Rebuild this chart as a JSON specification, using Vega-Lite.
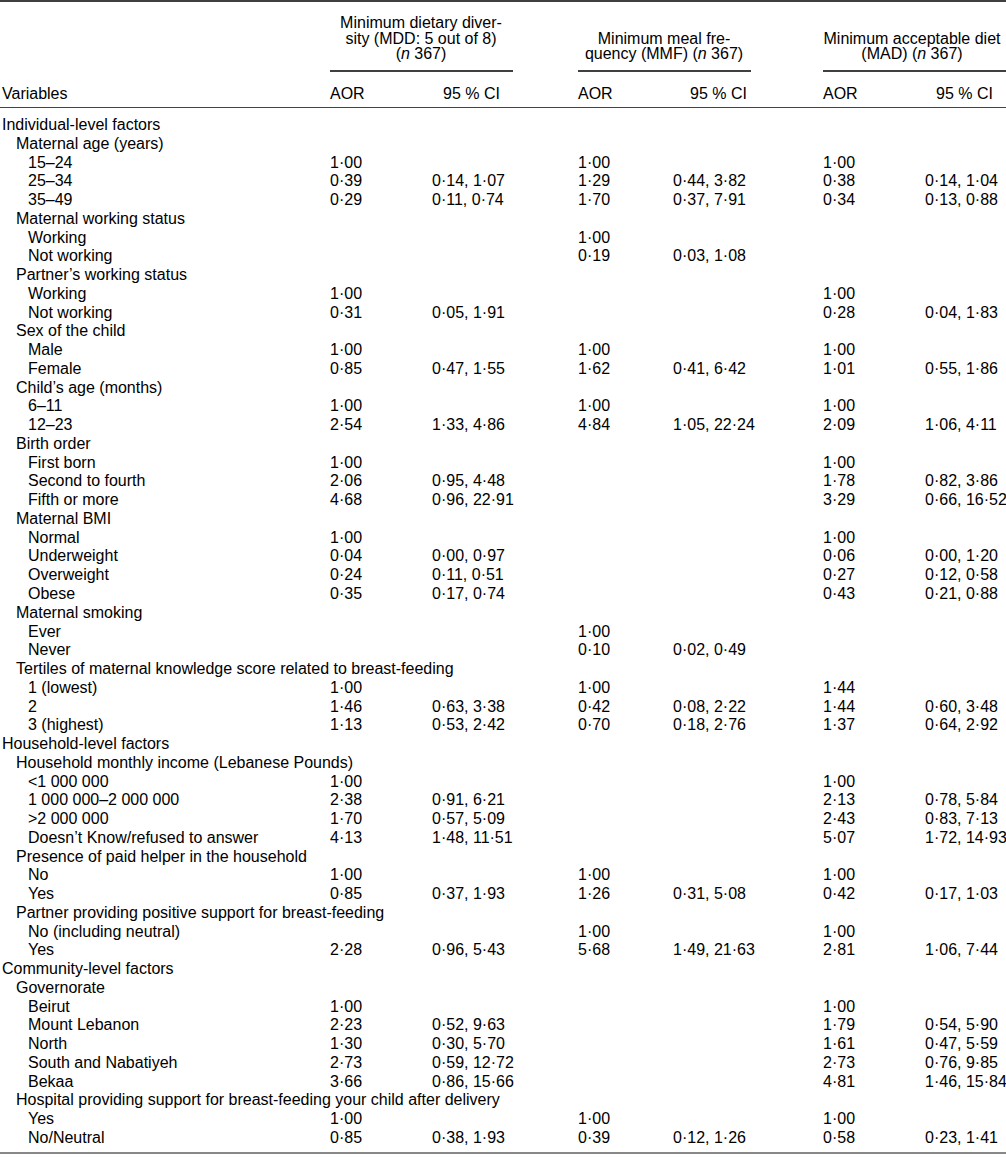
{
  "$schema": "https://vega.github.io/schema/vega-lite/v6.json",
  "width": 1006,
  "height": 1159,
  "padding": 0,
  "autosize": {"type": "none"},
  "background": "white",
  "config": {
    "view": {"stroke": null},
    "text": {"font": "Liberation Sans", "fontSize": 16, "color": "#000000", "baseline": "middle"}
  },
  "datasets": {
    "table": [
      {"r": 1, "c": 0, "label": "Individual-level factors"},
      {"r": 2, "c": 1, "label": "Maternal age (years)"},
      {"r": 3, "c": 2, "label": "15–24", "a1": "1·00", "a2": "1·00", "a3": "1·00"},
      {"r": 4, "c": 2, "label": "25–34", "a1": "0·39", "c1": "0·14, 1·07", "a2": "1·29", "c2": "0·44, 3·82", "a3": "0·38", "c3": "0·14, 1·04"},
      {"r": 5, "c": 2, "label": "35–49", "a1": "0·29", "c1": "0·11, 0·74", "a2": "1·70", "c2": "0·37, 7·91", "a3": "0·34", "c3": "0·13, 0·88"},
      {"r": 6, "c": 1, "label": "Maternal working status"},
      {"r": 7, "c": 2, "label": "Working", "a2": "1·00"},
      {"r": 8, "c": 2, "label": "Not working", "a2": "0·19", "c2": "0·03, 1·08"},
      {"r": 9, "c": 1, "label": "Partner’s working status"},
      {"r": 10, "c": 2, "label": "Working", "a1": "1·00", "a3": "1·00"},
      {"r": 11, "c": 2, "label": "Not working", "a1": "0·31", "c1": "0·05, 1·91", "a3": "0·28", "c3": "0·04, 1·83"},
      {"r": 12, "c": 1, "label": "Sex of the child"},
      {"r": 13, "c": 2, "label": "Male", "a1": "1·00", "a2": "1·00", "a3": "1·00"},
      {"r": 14, "c": 2, "label": "Female", "a1": "0·85", "c1": "0·47, 1·55", "a2": "1·62", "c2": "0·41, 6·42", "a3": "1·01", "c3": "0·55, 1·86"},
      {"r": 15, "c": 1, "label": "Child’s age (months)"},
      {"r": 16, "c": 2, "label": "6–11", "a1": "1·00", "a2": "1·00", "a3": "1·00"},
      {"r": 17, "c": 2, "label": "12–23", "a1": "2·54", "c1": "1·33, 4·86", "a2": "4·84", "c2": "1·05, 22·24", "a3": "2·09", "c3": "1·06, 4·11"},
      {"r": 18, "c": 1, "label": "Birth order"},
      {"r": 19, "c": 2, "label": "First born", "a1": "1·00", "a3": "1·00"},
      {"r": 20, "c": 2, "label": "Second to fourth", "a1": "2·06", "c1": "0·95, 4·48", "a3": "1·78", "c3": "0·82, 3·86"},
      {"r": 21, "c": 2, "label": "Fifth or more", "a1": "4·68", "c1": "0·96, 22·91", "a3": "3·29", "c3": "0·66, 16·52"},
      {"r": 22, "c": 1, "label": "Maternal BMI"},
      {"r": 23, "c": 2, "label": "Normal", "a1": "1·00", "a3": "1·00"},
      {"r": 24, "c": 2, "label": "Underweight", "a1": "0·04", "c1": "0·00, 0·97", "a3": "0·06", "c3": "0·00, 1·20"},
      {"r": 25, "c": 2, "label": "Overweight", "a1": "0·24", "c1": "0·11, 0·51", "a3": "0·27", "c3": "0·12, 0·58"},
      {"r": 26, "c": 2, "label": "Obese", "a1": "0·35", "c1": "0·17, 0·74", "a3": "0·43", "c3": "0·21, 0·88"},
      {"r": 27, "c": 1, "label": "Maternal smoking"},
      {"r": 28, "c": 2, "label": "Ever", "a2": "1·00"},
      {"r": 29, "c": 2, "label": "Never", "a2": "0·10", "c2": "0·02, 0·49"},
      {"r": 30, "c": 1, "label": "Tertiles of maternal knowledge score related to breast-feeding"},
      {"r": 31, "c": 2, "label": "1 (lowest)", "a1": "1·00", "a2": "1·00", "a3": "1·44"},
      {"r": 32, "c": 2, "label": "2", "a1": "1·46", "c1": "0·63, 3·38", "a2": "0·42", "c2": "0·08, 2·22", "a3": "1·44", "c3": "0·60, 3·48"},
      {"r": 33, "c": 2, "label": "3 (highest)", "a1": "1·13", "c1": "0·53, 2·42", "a2": "0·70", "c2": "0·18, 2·76", "a3": "1·37", "c3": "0·64, 2·92"},
      {"r": 34, "c": 0, "label": "Household-level factors"},
      {"r": 35, "c": 1, "label": "Household monthly income (Lebanese Pounds)"},
      {"r": 36, "c": 2, "label": "<1 000 000", "a1": "1·00", "a3": "1·00"},
      {"r": 37, "c": 2, "label": "1 000 000–2 000 000", "a1": "2·38", "c1": "0·91, 6·21", "a3": "2·13", "c3": "0·78, 5·84"},
      {"r": 38, "c": 2, "label": ">2 000 000", "a1": "1·70", "c1": "0·57, 5·09", "a3": "2·43", "c3": "0·83, 7·13"},
      {"r": 39, "c": 2, "label": "Doesn’t Know/refused to answer", "a1": "4·13", "c1": "1·48, 11·51", "a3": "5·07", "c3": "1·72, 14·93"},
      {"r": 40, "c": 1, "label": "Presence of paid helper in the household"},
      {"r": 41, "c": 2, "label": "No", "a1": "1·00", "a2": "1·00", "a3": "1·00"},
      {"r": 42, "c": 2, "label": "Yes", "a1": "0·85", "c1": "0·37, 1·93", "a2": "1·26", "c2": "0·31, 5·08", "a3": "0·42", "c3": "0·17, 1·03"},
      {"r": 43, "c": 1, "label": "Partner providing positive support for breast-feeding"},
      {"r": 44, "c": 2, "label": "No (including neutral)", "a2": "1·00", "a3": "1·00"},
      {"r": 45, "c": 2, "label": "Yes", "a1": "2·28", "c1": "0·96, 5·43", "a2": "5·68", "c2": "1·49, 21·63", "a3": "2·81", "c3": "1·06, 7·44"},
      {"r": 46, "c": 0, "label": "Community-level factors"},
      {"r": 47, "c": 1, "label": "Governorate"},
      {"r": 48, "c": 2, "label": "Beirut", "a1": "1·00", "a3": "1·00"},
      {"r": 49, "c": 2, "label": "Mount Lebanon", "a1": "2·23", "c1": "0·52, 9·63", "a3": "1·79", "c3": "0·54, 5·90"},
      {"r": 50, "c": 2, "label": "North", "a1": "1·30", "c1": "0·30, 5·70", "a3": "1·61", "c3": "0·47, 5·59"},
      {"r": 51, "c": 2, "label": "South and Nabatiyeh", "a1": "2·73", "c1": "0·59, 12·72", "a3": "2·73", "c3": "0·76, 9·85"},
      {"r": 52, "c": 2, "label": "Bekaa", "a1": "3·66", "c1": "0·86, 15·66", "a3": "4·81", "c3": "1·46, 15·84"},
      {"r": 53, "c": 1, "label": "Hospital providing support for breast-feeding your child after delivery"},
      {"r": 54, "c": 2, "label": "Yes", "a1": "1·00", "a2": "1·00", "a3": "1·00"},
      {"r": 55, "c": 2, "label": "No/Neutral", "a1": "0·85", "c1": "0·38, 1·93", "a2": "0·39", "c2": "0·12, 1·26", "a3": "0·58", "c3": "0·23, 1·41"}
    ],
    "cols": [
      {"key": "a1", "col": 3}, {"key": "c1", "col": 5},
      {"key": "a2", "col": 8}, {"key": "c2", "col": 10},
      {"key": "a3", "col": 13}, {"key": "c3", "col": 15}
    ],
    "headCenter": [
      {"r": -5, "c": 4, "t": "Minimum dietary diver-"},
      {"r": -4, "c": 4, "t": "sity (MDD: 5 out of 8)"},
      {"r": -4, "c": 9, "t": "Minimum meal fre-"},
      {"r": -4, "c": 14, "t": "Minimum acceptable diet"}
    ],
    "headPre": [
      {"r": -3, "c": 3.4, "t": "("},
      {"r": -3, "c": 10.4, "t": "quency (MMF) ("},
      {"r": -3, "c": 14.4, "t": "(MAD) ("}
    ],
    "headItalic": [
      {"r": -3, "c": 3.4, "t": "n"},
      {"r": -3, "c": 10.4, "t": "n"},
      {"r": -3, "c": 14.4, "t": "n"}
    ],
    "headLeft": [
      {"r": -3, "c": 3.5, "t": "367)"},
      {"r": -3, "c": 10.5, "t": "367)"},
      {"r": -3, "c": 15.2, "t": "367)"},
      {"r": -1, "c": 0, "t": "Variables"},
      {"r": -1, "c": 3, "t": "AOR"},
      {"r": -1, "c": 8, "t": "AOR"},
      {"r": -1, "c": 13, "t": "AOR"}
    ],
    "headRight": [
      {"r": -1, "c": 6, "t": "95 % CI"},
      {"r": -1, "c": 11, "t": "95 % CI"},
      {"r": -1, "c": 16, "t": "95 % CI"}
    ],
    "rules": [
      {"r": -6, "c": -1, "c2": 17, "k": "top"},
      {"r": -2, "c": 3, "c2": 7, "k": "under"},
      {"r": -2, "c": 8, "c2": 12, "k": "under"},
      {"r": -2, "c": 13, "c2": 17, "k": "under"},
      {"r": 0, "c": -1, "c2": 17, "k": "mid"},
      {"r": 56, "c": -1, "c2": 17, "k": "bottom"}
    ]
  },
  "encoding": {
    "x": {"field": "c", "type": "quantitative", "axis": null,
      "scale": {"domain": [-1,0,1,2,3,3.4,3.5,4,5,6,7,8,9,10,10.4,10.5,11,12,13,14,14.4,15,15.2,16,17],
                "range": [0,2,16,28,330,401,414.3,421,432,500,513,578,664,673,697.8,711.1,747,751,823,912,917.3,925,930.6,993,1006],
                "zero": false, "nice": false}},
    "y": {"field": "r", "type": "quantitative", "axis": null,
      "scale": {"domain": [-6,-5,-3,-2,-1,0,1,55,56], "range": [1,23,54,71,94,107.5,125,1138,1153], "zero": false, "nice": false}}
  },
  "layer": [
    {
      "data": {"name": "rules"},
      "mark": {"type": "rule"},
      "encoding": {
        "x2": {"field": "c2"},
        "color": {"field": "k", "type": "nominal", "legend": null,
          "scale": {"domain": ["top","under","mid","bottom"], "range": ["#000000","#000000","#444444","#111111"]}},
        "strokeWidth": {"field": "k", "type": "nominal", "legend": null,
          "scale": {"domain": ["top","under","mid","bottom"], "range": [1.5,1,2.5,2]}}
      }
    },
    {
      "data": {"name": "table"},
      "mark": {"type": "text", "align": "left"},
      "encoding": {"text": {"field": "label"}}
    },
    {
      "data": {"name": "table"},
      "transform": [
        {"fold": ["a1", "c1", "a2", "c2", "a3", "c3"]},
        {"filter": "isValid(datum.value) && datum.value !== ''"},
        {"lookup": "key", "from": {"data": {"name": "cols"}, "key": "key", "fields": ["col"]}}
      ],
      "mark": {"type": "text", "align": "left"},
      "encoding": {
        "x": {"field": "col", "type": "quantitative"},
        "text": {"field": "value"}
      }
    },
    {
      "data": {"name": "headCenter"},
      "mark": {"type": "text", "align": "center"},
      "encoding": {"text": {"field": "t"}}
    },
    {
      "data": {"name": "headPre"},
      "mark": {"type": "text", "align": "right"},
      "encoding": {"text": {"field": "t"}}
    },
    {
      "data": {"name": "headItalic"},
      "mark": {"type": "text", "align": "left", "fontStyle": "italic"},
      "encoding": {"text": {"field": "t"}}
    },
    {
      "data": {"name": "headLeft"},
      "mark": {"type": "text", "align": "left"},
      "encoding": {"text": {"field": "t"}}
    },
    {
      "data": {"name": "headRight"},
      "mark": {"type": "text", "align": "right"},
      "encoding": {"text": {"field": "t"}}
    }
  ]
}
